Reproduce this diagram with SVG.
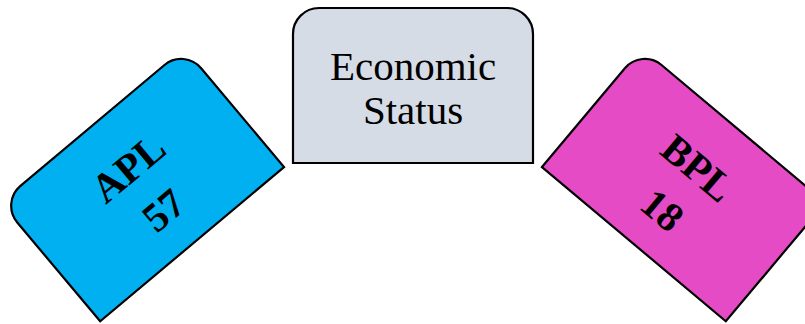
<svg xmlns="http://www.w3.org/2000/svg" width="805" height="324" viewBox="0 0 805 324">
<style>
.box{stroke:#000;stroke-width:2.2;stroke-linejoin:miter}
.lbl{font-family:"Liberation Serif","Times New Roman",serif;fill:#000;text-anchor:middle}
.b{font-weight:bold;font-size:41px}
</style>
<defs>
<path id="shape" d="M -120 77.5 V -51.5 A 26 26 0 0 1 -94 -77.5 H 94 A 26 26 0 0 1 120 -51.5 V 77.5 Z"/>
</defs>
<g id="connectors"></g>
<g id="apl" transform="translate(142.3,184.8) rotate(-40)">
<use href="#shape" class="box" fill="#00B0F0"/>
<text class="lbl b" x="0" y="-8">APL</text>
<text class="lbl b" x="0" y="47">57</text>
</g>
<g id="economic-status" transform="translate(413,85.5)">
<use href="#shape" class="box" fill="#D6DCE5"/>
<text class="lbl" font-size="41" x="0" y="-6">Economic</text>
<text class="lbl" font-size="41" x="0" y="38">Status</text>
</g>
<g id="bpl" transform="translate(683.7,184.8) rotate(40)">
<use href="#shape" class="box" fill="#E54BC4"/>
<text class="lbl b" x="0" y="-8">BPL</text>
<text class="lbl b" x="0" y="47">18</text>
</g>
</svg>
